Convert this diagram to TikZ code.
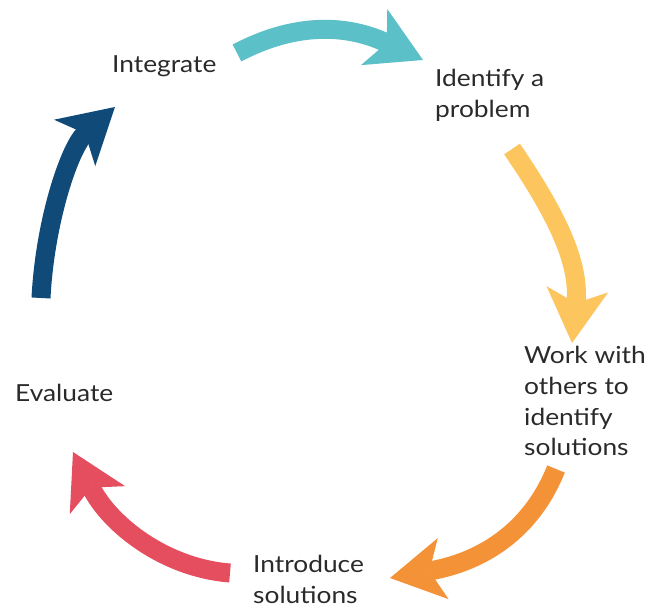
\documentclass[tikz,border=0pt]{standalone}
\usepackage{fontspec}
\setmainfont[FakeStretch=1.12]{Lato}
\usetikzlibrary{arrows.meta}
\definecolor{cteal}{HTML}{5BC0C7}
\definecolor{cyellow}{HTML}{FDC55E}
\definecolor{corange}{HTML}{F39237}
\definecolor{cred}{HTML}{E44E5E}
\definecolor{cblue}{HTML}{0F4A78}
\definecolor{ctext}{HTML}{2A2A2A}
\tikzset{
  flow/.style={line width=19pt,
    -{Stealth[length=54pt,width=62pt,inset=14pt,line width=0pt]}},
  lbl/.style={inner sep=0pt, anchor=north west, align=left, text=ctext,
    font=\fontsize{23.5pt}{30.8pt}\selectfont}
}
\begin{document}
\begin{tikzpicture}[x=1pt,y=-1pt]
\useasboundingbox (0,0) rectangle (657,609);
% labels
\node[lbl] (integ) at (112,55) {Integrate};
\node[lbl] (ident) at (435,69) {Identify a\\problem};
\node[lbl] (work) at (524,346) {Work with\\others to\\identify\\solutions};
\node[lbl] (intro) at (253,555) {Introduce\\solutions};
\node[lbl] (eval) at (15,384) {Evaluate};
% arrow ends
\coordinate (tA) at (237,53);  \coordinate (hA) at (423,60);
\coordinate (tB) at (512,149); \coordinate (hB) at (572,343);
\coordinate (tC) at (556,469); \coordinate (hC) at (390,578);
\coordinate (tD) at (230,573); \coordinate (hD) at (73,452);
\coordinate (tE) at (41,298);  \coordinate (hE) at (115,107);
% arrows
\draw[flow, cteal] (tA) .. controls (290,25) and (342,22) .. (hA);
\draw[flow, cyellow] (tB) .. controls (557,215) and (580,263) .. (hB);
\draw[flow, corange] (tC) .. controls (535,522) and (492,560) .. (hC);
\draw[flow, cred] (tD) .. controls (165,568) and (110,525) .. (hD);
\draw[flow, cblue] (tE) .. controls (45,220) and (70,147) .. (hE);
\end{tikzpicture}
\end{document}
